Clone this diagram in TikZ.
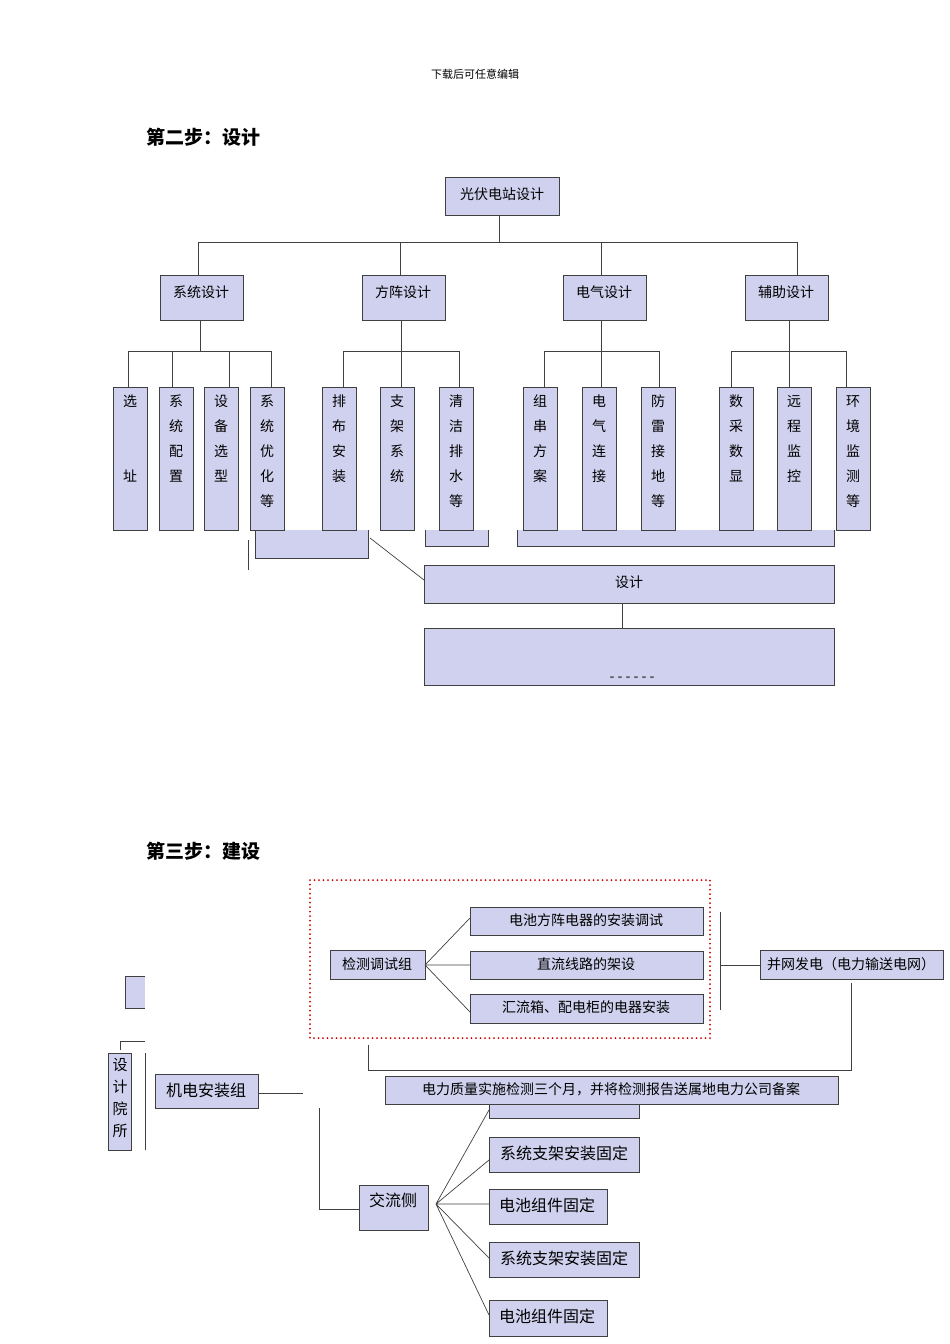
\documentclass[tikz,border=0pt]{standalone}
\usepackage{fontspec}
\setmainfont{Noto Sans CJK SC}
\begin{document}
\begin{tikzpicture}[x=1pt,y=-1pt,
 bx/.style={draw=black!75,fill=boxc,line width=0.8pt},
 ln/.style={draw=black!75,line width=0.7pt},
 lb/.style={font=\fontsize{14}{16}\selectfont,inner sep=0pt},
 lc/.style={font=\fontsize{16}{18}\selectfont,inner sep=0pt},
 vl/.style={font=\fontsize{14}{25}\selectfont,align=center,inner sep=0pt,anchor=north}]
\definecolor{boxc}{HTML}{D0D1EE}
\useasboundingbox (0,0) rectangle (950,1344);
\node[font=\fontsize{11}{12}\selectfont] (hdr) at (475,74) {下载后可任意编辑};
\node[font=\bfseries\fontsize{19}{21}\selectfont,anchor=west] (t2) at (143,137) {第二步：设计};
\node[font=\bfseries\fontsize{19}{21}\selectfont,anchor=west] (t3) at (143,851) {第三步：建设};
% step 2
\draw[bx] (445,177) rectangle (559,215); \node[lb] (root) at (502,194) {光伏电站设计};
\draw[ln] (499,215)--(499,242) (198,242)--(797,242);
\foreach \x/\a/\t in {160/198/系统设计,362/400/方阵设计,563/601/电气设计,745/797/辅助设计}{
 \draw[ln] (\a,242)--(\a,275);
 \draw[bx] (\x,275) rectangle (\x+83,320);
 \node[lb] at (\x+41,292) {\t};}
\draw[ln] (200,320)--(200,351) (128,351)--(271,351);
\draw[ln] (401,320)--(401,351) (343,351)--(459,351);
\draw[ln] (601,320)--(601,351) (544,351)--(659,351);
\draw[ln] (789,320)--(789,351) (731,351)--(846,351);
% partial boxes behind
\draw[ln] (248,540)--(248,570);
\draw[bx] (255,530)--(255,558)--(368,558)--(368,530);
\draw[bx] (425,530)--(425,546)--(488,546)--(488,530);
\draw[bx] (517,530)--(517,546)--(834,546)--(834,530);
\foreach \x/\d/\t in {113/128/{选\\ \\ \\址},159/172/{系\\统\\配\\置},204/229/{设\\备\\选\\型},250/271/{系\\统\\优\\化\\等},
 322/343/{排\\布\\安\\装},380/401/{支\\架\\系\\统},439/459/{清\\洁\\排\\水\\等},
 523/544/{组\\串\\方\\案},582/601/{电\\气\\连\\接},641/659/{防\\雷\\接\\地\\等},
 719/731/{数\\采\\数\\显},777/789/{远\\程\\监\\控},836/846/{环\\境\\监\\测\\等}}{
 \draw[ln] (\d,351)--(\d,387);
 \draw[bx] (\x,387) rectangle (\x+34,530);
 \node[vl] at (\x+17,395) {\t};}
\draw[ln] (370,538)--(424,580);
\draw[bx] (424,565) rectangle (834,603); \node[lb] (sj) at (629,582) {设计};
\draw[ln] (622,603)--(622,628);
\draw[bx] (424,628) rectangle (834,685);
\node[lb] at (632,679) {- - - - - -};
% step 3
\draw[red!80!black,line width=2pt,dash pattern=on 0pt off 4.5pt,line cap=round] (310,880) rectangle (710,1038);
\draw[bx] (330,950) rectangle (425,979); \node[lb] (jc) at (377,964) {检测调试组};
\draw[bx] (470,907) rectangle (703,935); \node[lb] at (586,920) {电池方阵电器的安装调试};
\draw[bx] (470,951) rectangle (703,979); \node[lb] at (586,964) {直流线路的架设};
\draw[bx] (470,994) rectangle (703,1023); \node[lb] at (586,1007) {汇流箱、配电柜的电器安装};
\draw[ln] (425,965)--(470,918) (425,965)--(470,965) (425,965)--(470,1012);
\draw[ln] (720,912)--(720,1010) (720,965)--(760,965);
\draw[bx] (760,950) rectangle (943,979); \node[lb] (bw) at (851,964) {并网发电（电力输送电网）};
\draw[ln] (851,983)--(851,1070)--(368,1070)--(368,1045);
\draw[bx] (489,1104)--(489,1118)--(639,1118)--(639,1104);
\draw[bx] (385,1076) rectangle (838,1104); \node[lb] at (611,1089) {电力质量实施检测三个月，并将检测报告送属地电力公司备案};
\draw[bx] (145,976)--(125,976)--(125,1008)--(145,1008);
\draw[ln] (120,1050)--(120,1041)--(145,1041);
\draw[bx] (108,1053) rectangle (131,1150);
\node[vl,font=\fontsize{15}{22}\selectfont] at (120,1058) {设\\计\\院\\所};
\draw[ln] (145,1053)--(145,1150);
\draw[bx] (155,1074) rectangle (258,1108); \node[lc] (jd) at (206,1090) {机电安装组};
\draw[ln] (258,1093)--(303,1093);
\draw[ln] (319,1108)--(319,1209)--(359,1209);
\draw[bx] (359,1185) rectangle (428,1230); \node[lc] (jl) at (393,1200) {交流侧};
\draw[bx] (489,1137) rectangle (639,1172); \node[lc] at (564,1153) {系统支架安装固定};
\draw[bx] (489,1189) rectangle (607,1224); \node[lc] at (547,1205) {电池组件固定};
\draw[bx] (489,1242) rectangle (639,1277); \node[lc] at (564,1258) {系统支架安装固定};
\draw[bx] (489,1300) rectangle (607,1336); \node[lc] at (547,1316) {电池组件固定};
\draw[ln] (436,1204)--(489,1110) (436,1204)--(489,1160) (436,1204)--(489,1204) (436,1204)--(489,1258) (436,1204)--(489,1315);
\end{tikzpicture}
\end{document}
